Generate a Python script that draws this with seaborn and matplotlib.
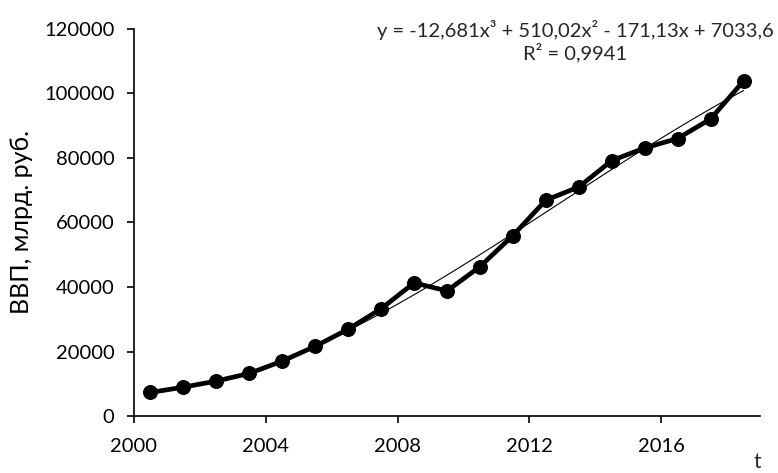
import matplotlib
matplotlib.use("Agg")
import matplotlib.pyplot as plt
import numpy as np
import pandas as pd
import seaborn as sns

# ВВП России, млрд. руб.
years = [2000, 2001, 2002, 2003, 2004, 2005, 2006, 2007, 2008, 2009,
         2010, 2011, 2012, 2013, 2014, 2015, 2016, 2017, 2018]
gdp = [7306, 8944, 10831, 13208, 17027, 21610, 26917, 33248, 41277, 38807,
       46309, 55967, 66927, 71017, 79200, 83101, 86044, 92101, 103876]
x_ticks = [2000, 2004, 2008, 2012, 2016]
y_ticks = [0, 20000, 40000, 60000, 80000, 100000, 120000]
eq_text = "y = -12,681x³ + 510,02x² - 171,13x + 7033,6\nR² = 0,9941"

df = pd.DataFrame({"t": np.array(years) + 0.5, "gdp": gdp})

sns.set_theme(style="ticks")
plt.rcParams["font.family"] = ["Lato", "DejaVu Sans"]

fig = plt.figure(figsize=(7.78, 4.73), dpi=100)
ax = fig.add_axes([0.1722, 0.1205, 0.8047, 0.8182])

sns.lineplot(data=df, x="t", y="gdp", ax=ax, color="black", linewidth=3.4,
             marker="o", markersize=10, markeredgecolor="black")
# полиномиальный тренд 3-й степени
sns.regplot(data=df, x="t", y="gdp", ax=ax, order=3, ci=None, scatter=False,
            line_kws={"color": "black", "linewidth": 0.8})

ax.set_xlim(2000, 2019)
ax.set_ylim(0, 120000)
ax.set_xticks(x_ticks)
ax.set_yticks(y_ticks)
ax.set_xticklabels([str(v) for v in x_ticks])
ax.set_yticklabels([str(v) for v in y_ticks])
ax.tick_params(axis="both", labelsize=14.5, colors="black", length=5,
               width=1.2, direction="out")
ax.tick_params(axis="x", pad=11)
ax.tick_params(axis="y", pad=9)

for s in ["top", "right"]:
    ax.spines[s].set_visible(False)
for s in ["left", "bottom"]:
    ax.spines[s].set_color("black")
    ax.spines[s].set_linewidth(1.2)

ax.set_xlabel("")
ax.set_ylabel("ВВП, млрд. руб.", fontsize=18, color="black", labelpad=8)
fig.text(757 / 778, 1 - 462 / 473, "t", fontsize=15, ha="center", va="center")
fig.text(575 / 778, 1 - 41 / 473, eq_text, fontsize=14.5, ha="center",
         va="center", linespacing=1.2)

fig.savefig("out.png", dpi=100)
